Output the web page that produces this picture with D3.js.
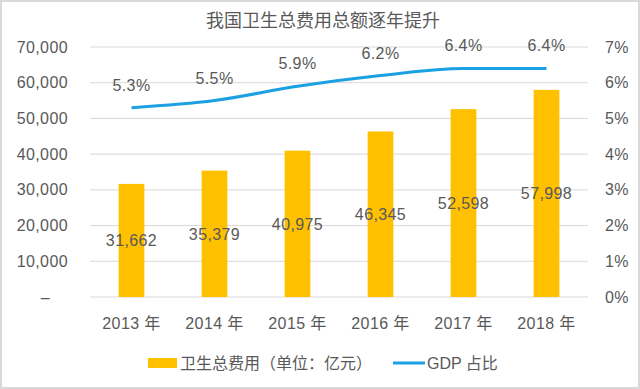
<!DOCTYPE html>
<html>
<head>
<meta charset="utf-8">
<script src="https://cdn.jsdelivr.net/npm/d3@7"></script>
<style>
  body { margin: 0; background: #fff; }
  svg text { font-family: "Liberation Sans", "Noto Sans CJK SC", sans-serif; fill: #595959; }
</style>
</head>
<body>
<div id="chart"></div>
<script>
// chart data
var years = ["2013 年", "2014 年", "2015 年", "2016 年", "2017 年", "2018 年"];
var spending = [31662, 35379, 40975, 46345, 52598, 57998];
var gdpShare = [5.3, 5.5, 5.9, 6.2, 6.4, 6.4];
var leftTicks = [0, 10000, 20000, 30000, 40000, 50000, 60000, 70000];
var rightTicks = [0, 1, 2, 3, 4, 5, 6, 7];

var W = 640, H = 389;
var margin = {top: 47, right: 52, bottom: 92, left: 90},
    width = W - margin.left - margin.right,
    height = H - margin.top - margin.bottom;

var svg = d3.select("#chart")
  .append("svg")
    .attr("width", W)
    .attr("height", H);

// outer frame
svg.append("rect")
    .attr("x", 1).attr("y", 1)
    .attr("width", W - 2).attr("height", H - 2)
    .style("fill", "none")
    .style("stroke", "#d9d9d9")
    .style("stroke-width", 2);

// title
svg.append("text")
    .attr("x", W / 2 + 3).attr("y", 27)
    .style("text-anchor", "middle")
    .style("font-size", "18px")
    .style("font-family", "\"Noto Sans CJK SC\", sans-serif")
    .text("我国卫生总费用总额逐年提升");

var g = svg.append("g")
    .attr("transform", "translate(" + margin.left + "," + margin.top + ")");

var x = d3.scaleBand()
    .domain(years)
    .range([0, width])
    .paddingInner(0.69)
    .paddingOuter(0.345);

var y = d3.scaleLinear().domain([0, 70000]).range([height, 0]);
var y2 = d3.scaleLinear().domain([0, 7]).range([height, 0]);

// gridlines
g.selectAll(".grid")
  .data(leftTicks)
  .enter()
  .append("line")
    .attr("x1", 0).attr("x2", width)
    .attr("y1", function(d) { return y(d); })
    .attr("y2", function(d) { return y(d); })
    .style("stroke", "#d9d9d9")
    .style("stroke-width", 1);

function styleAxisText(sel) {
  sel.selectAll("text")
      .style("font-size", "16px")
      .style("fill", "#595959")
      .style("letter-spacing", "0.4px")
      .style("font-family", "\"Liberation Sans\", \"Noto Sans CJK SC\", sans-serif");
}

// left axis
var leftAxis = g.append("g")
    .call(d3.axisLeft(y).tickValues(leftTicks).tickSize(0).tickPadding(22)
      .tickFormat(function(d) { return d === 0 ? "–" : d3.format(",")(d); }));
leftAxis.select(".domain").remove();
styleAxisText(leftAxis);
leftAxis.selectAll("text").filter(function(d) { return d === 0; }).attr("dx", "-18px");

// right axis
var rightAxis = g.append("g")
    .attr("transform", "translate(" + width + ",0)")
    .call(d3.axisRight(y2).tickValues(rightTicks).tickSize(0).tickPadding(17)
      .tickFormat(function(d) { return d + "%"; }));
rightAxis.select(".domain").remove();
styleAxisText(rightAxis);

// x axis labels
var bottomAxis = g.append("g")
    .attr("transform", "translate(0," + height + ")")
    .call(d3.axisBottom(x).tickSize(0).tickPadding(21));
bottomAxis.select(".domain").remove();
styleAxisText(bottomAxis);

// bars
g.selectAll(".bar")
  .data(spending)
  .enter()
  .append("rect")
    .attr("x", function(d, i) { return x(years[i]); })
    .attr("y", function(d) { return y(d); })
    .attr("width", x.bandwidth())
    .attr("height", function(d) { return height - y(d); })
    .style("fill", "#FFC000");

// bar value labels, centred in the bar
g.selectAll(".barlabel")
  .data(spending)
  .enter()
  .append("text")
    .attr("x", function(d, i) { return x(years[i]) + x.bandwidth() / 2; })
    .attr("y", function(d) { return y(d / 2); })
    .attr("dy", "0.36em")
    .style("text-anchor", "middle")
    .style("font-size", "16px")
    .style("letter-spacing", "0.4px")
    .text(function(d) { return d3.format(",")(d); });

// GDP share line
var line = d3.line()
    .x(function(d, i) { return x(years[i]) + x.bandwidth() / 2; })
    .y(function(d) { return y2(d); })
    .curve(d3.curveMonotoneX);

g.append("path")
    .datum(gdpShare)
    .attr("d", line)
    .style("fill", "none")
    .style("stroke", "#1BA1E2")
    .style("stroke-width", 3);

g.selectAll(".linelabel")
  .data(gdpShare)
  .enter()
  .append("text")
    .attr("x", function(d, i) { return x(years[i]) + x.bandwidth() / 2; })
    .attr("y", function(d) { return y2(d) - 17; })
    .style("text-anchor", "middle")
    .style("font-size", "16px")
    .style("letter-spacing", "0.4px")
    .text(function(d) { return d.toFixed(1) + "%"; });

// Handmade legend
svg.append("rect").attr("x", 148).attr("y", 358).attr("width", 29).attr("height", 10).style("fill", "#FFC000");
svg.append("text").attr("x", 180).attr("y", 369).text("卫生总费用（单位：亿元）")
    .style("font-size", "16px").style("font-family", "\"Noto Sans CJK SC\", sans-serif");
svg.append("line").attr("x1", 393).attr("x2", 425).attr("y1", 363).attr("y2", 363)
    .style("stroke", "#1BA1E2").style("stroke-width", 3);
svg.append("text").attr("x", 427).attr("y", 369).text("GDP 占比").style("font-size", "16px");
</script>
</body>
</html>
